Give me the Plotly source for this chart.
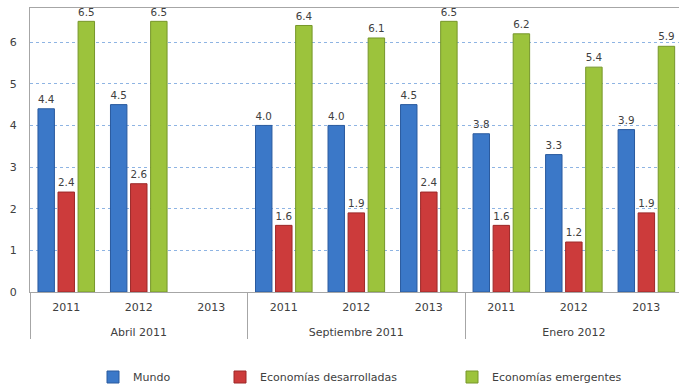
import plotly.graph_objects as go

groups = ["<br>Abril 2011"] * 3 + ["<br>Septiembre 2011"] * 3 + ["<br>Enero 2012"] * 3
years = ["2011", "2012", "2013"] * 3
mundo = [4.4, 4.5, None, 4.0, 4.0, 4.5, 3.8, 3.3, 3.9]
desarrolladas = [2.4, 2.6, None, 1.6, 1.9, 2.4, 1.6, 1.2, 1.9]
emergentes = [6.5, 6.5, None, 6.4, 6.1, 6.5, 6.2, 5.4, 5.9]

series = [
    ("Mundo", mundo, "#3B78C8", "#2A5A9E", "legend"),
    ("Economías desarrolladas", desarrolladas, "#CC3B3B", "#9C2828", "legend2"),
    ("Economías emergentes", emergentes, "#9CC33C", "#76962A", "legend3"),
]

FONT = "DejaVu Sans"
fig = go.Figure()
for name, vals, col, lcol, lg in series:
    fig.add_trace(go.Bar(
        name=name, x=[groups, years], y=vals,
        marker=dict(color=col, line=dict(color=lcol, width=1)),
        text=[None if v is None else f"{v:.1f}" for v in vals],
        textposition="outside", cliponaxis=False,
        textfont=dict(family=FONT, size=11, color="#404040"),
        legend=lg, showlegend=True,
    ))

W, H = 679, 387
L, R, T, B = 30, 0, 8, 95
pw, ph = W - L - R, H - T - B

def px(x):
    return (x - L) / pw

ly = (T + ph - 377) / ph
leg = dict(orientation="h", xanchor="left", yanchor="middle", y=ly,
           font=dict(family=FONT, size=11, color="#404040"),
           bgcolor="rgba(0,0,0,0)", itemwidth=30, visible=True)

fig.update_layout(
    width=W, height=H,
    margin=dict(l=L, r=R, t=T, b=B, autoexpand=False),
    paper_bgcolor="white", plot_bgcolor="white",
    barmode="group", bargap=0.17, bargroupgap=0.18,
    font=dict(family=FONT, size=11, color="#404040"),
    showlegend=True,
    legend=dict(leg, x=px(93)),
    legend2=dict(leg, x=px(220)),
    legend3=dict(leg, x=px(452)),
)
fig.update_xaxes(
    range=[-0.5, 8.45], automargin=False,
    showline=True, linecolor="#A6A6A6", linewidth=1, mirror=True,
    showgrid=False, ticks="outside", ticklen=6, tickcolor="rgba(0,0,0,0)",
    ticklabelstandoff=5,
    showdividers=True, dividercolor="#A6A6A6", dividerwidth=1,
    tickfont=dict(family=FONT, size=11, color="#404040"),
)
fig.update_yaxes(
    range=[0, 6.82], tickvals=[0, 1, 2, 3, 4, 5, 6], automargin=False,
    showline=True, linecolor="#A6A6A6", linewidth=1, mirror=True,
    showgrid=True, gridcolor="#8EB4E3", griddash="dot", gridwidth=1,
    zeroline=False, ticks="", ticklen=0, ticklabelstandoff=10,
    tickfont=dict(family=FONT, size=11, color="#404040"),
)

fig.write_html("out.html")
